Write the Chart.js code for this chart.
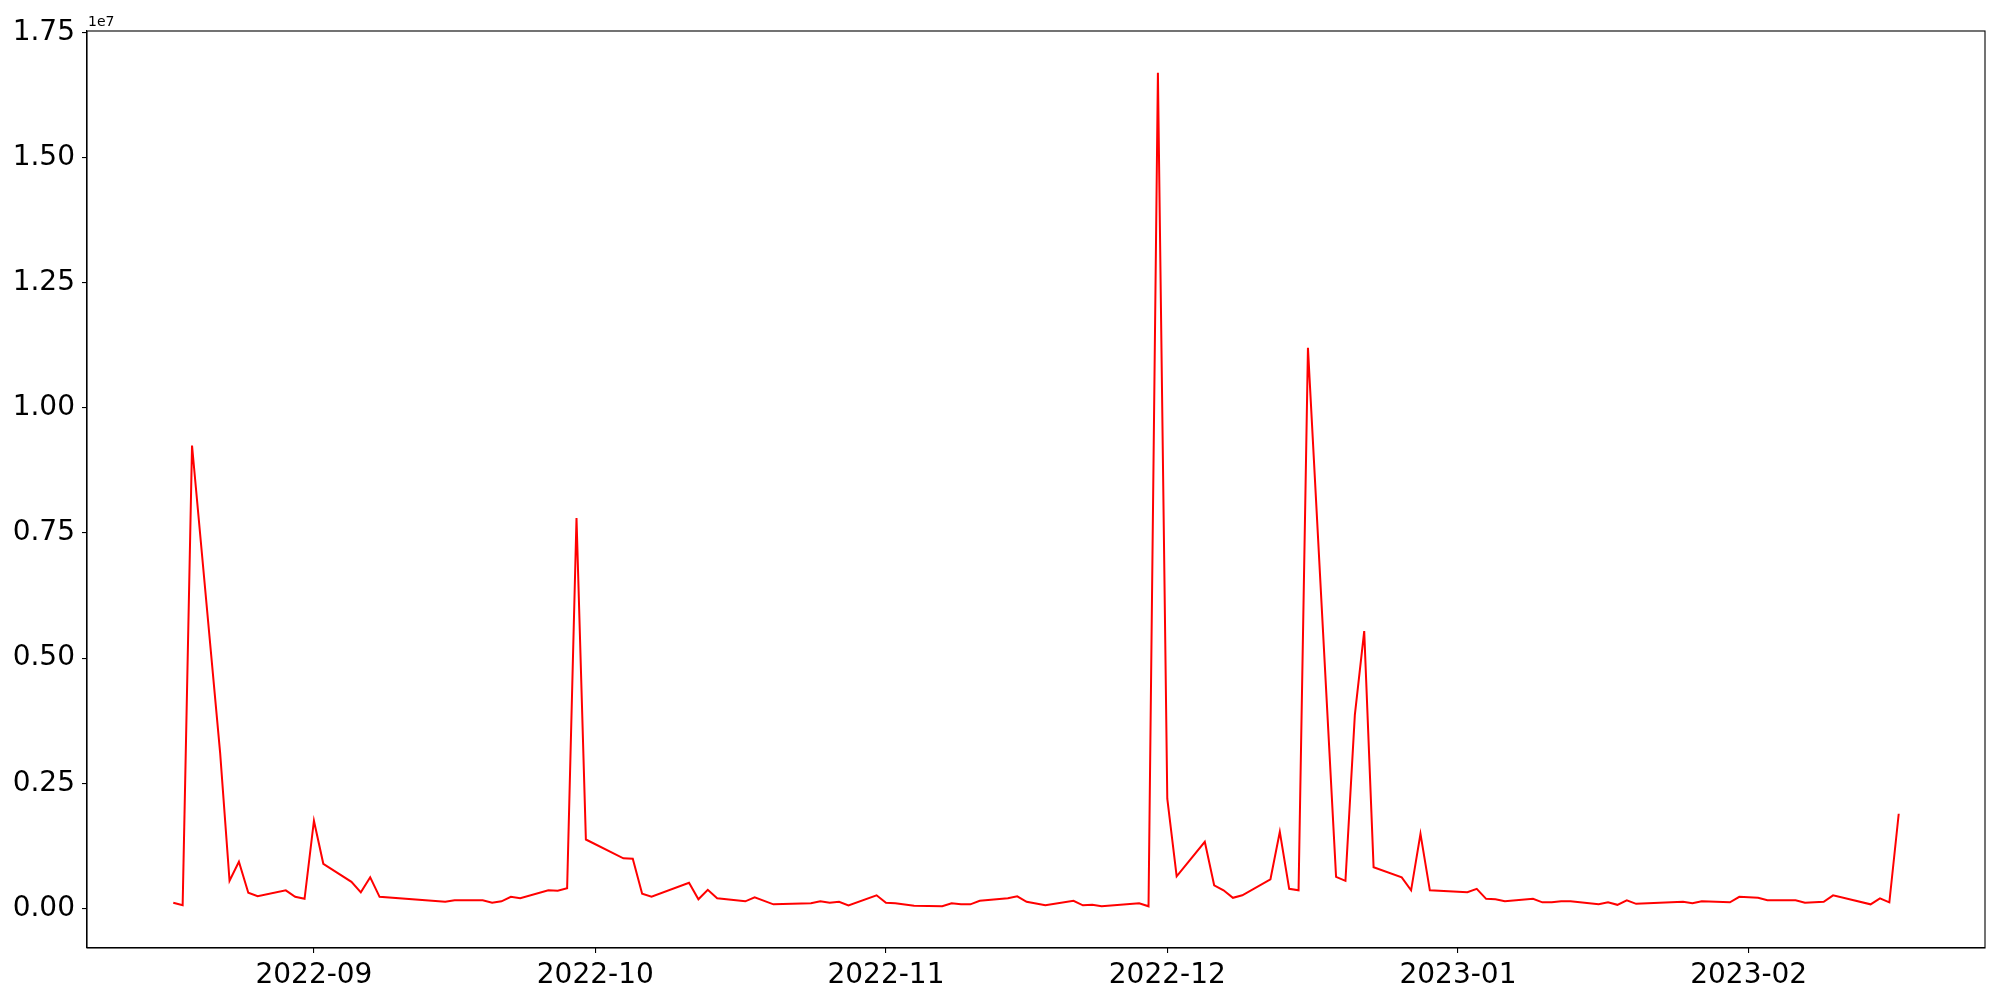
<!DOCTYPE html>
<html lang="en">
<head>
    <meta charset="UTF-8">
    <title>Daily volume</title>
    <script src="https://cdn.jsdelivr.net/npm/chart.js"></script>
    <style>
        body {
            margin: 0;
            padding: 0;
            background: white;
        }

        .chart-container {
            width: 2000px;
            height: 1000px;
        }
    </style>
</head>
<body>

    <div class="chart-container">
        <canvas id="volumeChart" width="2000" height="1000"></canvas>
    </div>

    <script>
        // Dates of each observation
        const dates = [
            '2022-08-17', '2022-08-18', '2022-08-19', '2022-08-22', '2022-08-23', '2022-08-24', '2022-08-25', '2022-08-26',
            '2022-08-29', '2022-08-30', '2022-08-31', '2022-09-01', '2022-09-02', '2022-09-05', '2022-09-06', '2022-09-07',
            '2022-09-08', '2022-09-15', '2022-09-16', '2022-09-19', '2022-09-20', '2022-09-21', '2022-09-22', '2022-09-23',
            '2022-09-26', '2022-09-27', '2022-09-28', '2022-09-29', '2022-09-30', '2022-10-04', '2022-10-05', '2022-10-06',
            '2022-10-07', '2022-10-11', '2022-10-12', '2022-10-13', '2022-10-14', '2022-10-17', '2022-10-18', '2022-10-20',
            '2022-10-24', '2022-10-25', '2022-10-26', '2022-10-27', '2022-10-28', '2022-10-31', '2022-11-01', '2022-11-02',
            '2022-11-04', '2022-11-07', '2022-11-08', '2022-11-09', '2022-11-10', '2022-11-11', '2022-11-14', '2022-11-15',
            '2022-11-16', '2022-11-18', '2022-11-21', '2022-11-22', '2022-11-23', '2022-11-24', '2022-11-28', '2022-11-29',
            '2022-11-30', '2022-12-01', '2022-12-02', '2022-12-05', '2022-12-06', '2022-12-07', '2022-12-08', '2022-12-09',
            '2022-12-12', '2022-12-13', '2022-12-14', '2022-12-15', '2022-12-16', '2022-12-19', '2022-12-20', '2022-12-21',
            '2022-12-22', '2022-12-23', '2022-12-26', '2022-12-27', '2022-12-28', '2022-12-29', '2023-01-02', '2023-01-03',
            '2023-01-04', '2023-01-05', '2023-01-06', '2023-01-09', '2023-01-10', '2023-01-11', '2023-01-12', '2023-01-13',
            '2023-01-16', '2023-01-17', '2023-01-18', '2023-01-19', '2023-01-20', '2023-01-25', '2023-01-26', '2023-01-27',
            '2023-01-30', '2023-01-31', '2023-02-02', '2023-02-03', '2023-02-06', '2023-02-07', '2023-02-09', '2023-02-10',
            '2023-02-14', '2023-02-15', '2023-02-16', '2023-02-17'
        ];

        // Values, one per date
        const volumes = [
            110000, 60000, 9250000, 3100000, 550000, 930000, 310000, 240000,
            360000, 230000, 190000, 1750000, 890000, 530000, 320000, 620000,
            230000, 130000, 160000, 160000, 110000, 140000, 230000, 200000,
            360000, 350000, 400000, 7800000, 1375000, 1000000, 990000, 290000,
            230000, 510000, 180000, 370000, 200000, 140000, 220000, 80000,
            100000, 140000, 110000, 130000, 60000, 260000, 110000, 100000,
            50000, 40000, 100000, 80000, 80000, 150000, 200000, 240000,
            130000, 60000, 150000, 60000, 70000, 40000, 100000, 40000,
            16700000, 2190000, 640000, 1330000, 460000, 360000, 210000, 260000,
            580000, 1530000, 390000, 360000, 11200000, 630000, 550000, 3860000,
            5540000, 820000, 620000, 360000, 1490000, 360000, 320000, 390000,
            190000, 180000, 140000, 190000, 120000, 120000, 140000, 140000,
            80000, 120000, 70000, 160000, 90000, 130000, 100000, 140000,
            120000, 230000, 210000, 160000, 160000, 110000, 130000, 260000,
            80000, 200000, 120000, 1890000
        ];

        // Tick labels
        const monthTicks = ['2022-09', '2022-10', '2022-11', '2022-12', '2023-01', '2023-02'];
        const yTicks = [0, 2500000, 5000000, 7500000, 10000000, 12500000, 15000000, 17500000];

        const DAY = 86400000;
        const toDay = s => {
            const p = s.split('-').map(Number);
            return Date.UTC(p[0], p[1] - 1, p[2] || 1) / DAY;
        };
        const points = dates.map((d, i) => ({ x: toDay(d), y: volumes[i] }));
        const monthDays = monthTicks.map(toDay);

        // matplotlib-like 5% margins
        const xFirst = toDay(dates[0]), xLast = toDay(dates[dates.length - 1]);
        const xPad = (xLast - xFirst) * 0.05;
        const yMinV = Math.min(...volumes), yMaxV = Math.max(...volumes);
        const yPad = (yMaxV - yMinV) * 0.05;

        const font = { family: "'DejaVu Sans', sans-serif", size: 28 };

        // Full box around plot + offset label
        const framePlugin = {
            id: 'frame',
            afterDraw(chart) {
                const { ctx, chartArea: a } = chart;
                ctx.save();
                ctx.strokeStyle = '#000';
                ctx.lineWidth = 1.1;
                ctx.strokeRect(a.left, a.top, a.right - a.left, a.bottom - a.top);
                ctx.fillStyle = '#000';
                ctx.font = "14px 'DejaVu Sans', sans-serif";
                ctx.textBaseline = 'alphabetic';
                ctx.fillText('1e7', a.left + 1, a.top - 5);
                ctx.restore();
            }
        };

        const ctx = document.getElementById('volumeChart').getContext('2d');

        new Chart(ctx, {
            type: 'line',
            data: {
                datasets: [{
                    label: 'volume',
                    data: points,
                    borderColor: '#ff0000',
                    borderWidth: 2,
                    pointRadius: 0,
                    tension: 0,
                    fill: false
                }]
            },
            options: {
                responsive: false,
                animation: false,
                layout: { padding: { top: 31, right: 15, left: 0, bottom: 0 } },
                plugins: {
                    legend: { display: false },
                    tooltip: { enabled: false }
                },
                scales: {
                    x: {
                        type: 'linear',
                        min: xFirst - xPad,
                        max: xLast + xPad,
                        afterBuildTicks: scale => { scale.ticks = monthDays.map(v => ({ value: v })); },
                        afterFit: scale => { scale.height = 52; },
                        grid: { drawOnChartArea: false, drawTicks: true, tickLength: 5, color: '#000', lineWidth: 1.1 },
                        border: { color: '#000', width: 1.1 },
                        ticks: {
                            color: '#000',
                            font: font,
                            padding: 6,
                            maxRotation: 0,
                            autoSkip: false,
                            callback: (v, i) => monthTicks[i]
                        }
                    },
                    y: {
                        type: 'linear',
                        min: yMinV - yPad,
                        max: yMaxV + yPad,
                        afterBuildTicks: scale => { scale.ticks = yTicks.map(v => ({ value: v })); },
                        afterFit: scale => { scale.width = 87; },
                        grid: { drawOnChartArea: false, drawTicks: true, tickLength: 5, color: '#000', lineWidth: 1.1 },
                        border: { color: '#000', width: 1.1 },
                        ticks: {
                            color: '#000',
                            font: font,
                            padding: 7,
                            autoSkip: false,
                            callback: v => (v / 1e7).toFixed(2)
                        }
                    }
                }
            },
            plugins: [framePlugin]
        });
    </script>

</body>
</html>
